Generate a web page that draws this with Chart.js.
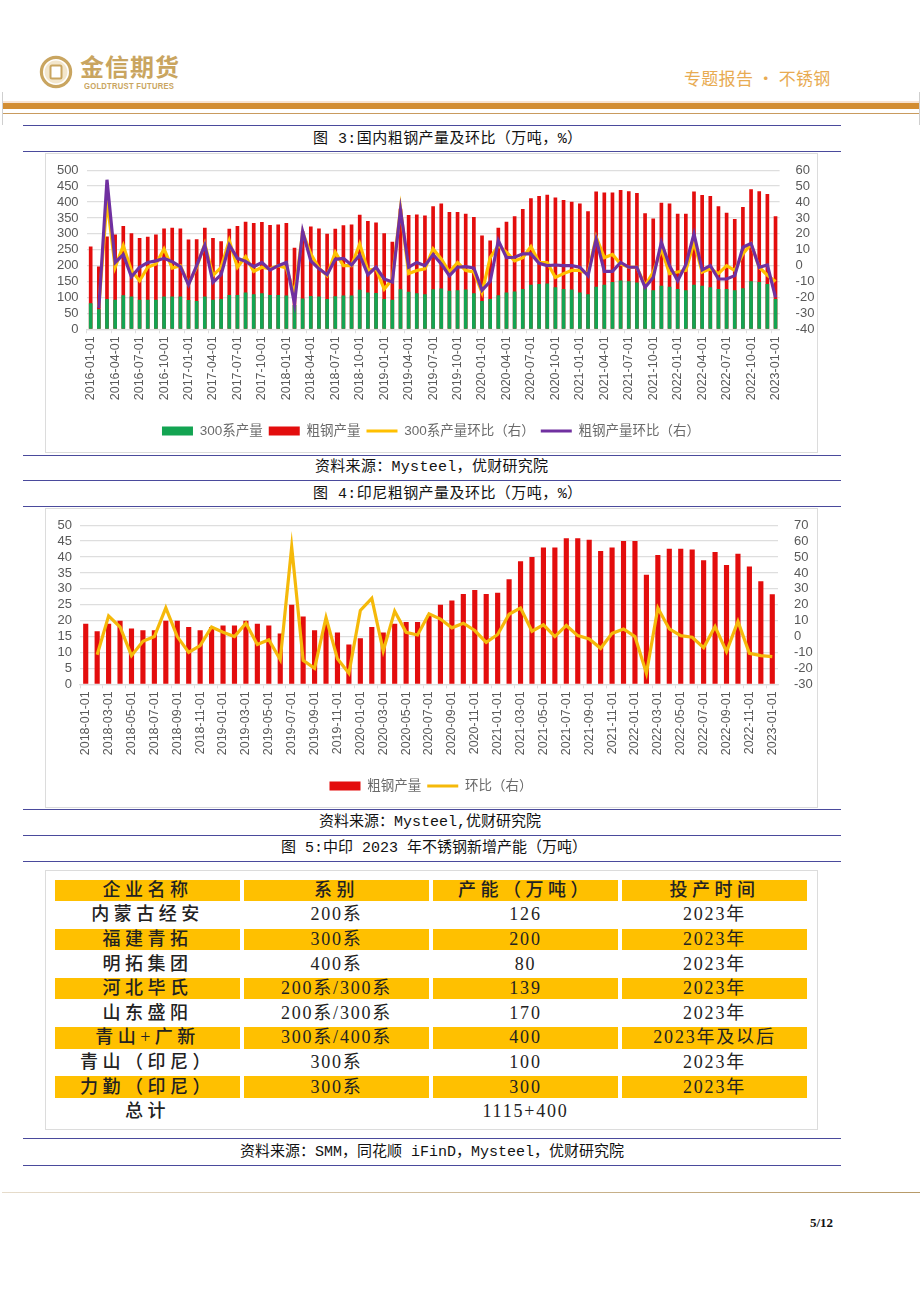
<!DOCTYPE html>
<html>
<head>
<meta charset="utf-8">
<title>不锈钢专题报告</title>
<script src="https://cdn.jsdelivr.net/npm/chart.js@4"></script>
<style>
  html, body { margin: 0; padding: 0; background: #fff; }
  #page { position: relative; width: 920px; height: 1302px; overflow: hidden; font-family: "Liberation Mono", "Noto Sans CJK SC", monospace; color: #111; }
  .abs { position: absolute; }
  .rule { position: absolute; left: 23px; width: 818px; height: 1.3px; background: #4a4a9c; }
  .cap { position: absolute; font-size: 15px; line-height: 20px; white-space: nowrap; }
  .frame { position: absolute; left: 45px; width: 771px; border: 1.5px solid #dcdcdc; box-sizing: content-box; }
  canvas { position: absolute; }
  #tbl { position: absolute; left: 51px; top: 876.5px; border-collapse: separate; border-spacing: 4px 3px; table-layout: fixed; font-family: "Liberation Serif", "Noto Sans CJK SC", serif; color: #222; }
  #tbl td { width: 185px; height: 21.6px; padding: 0; text-align: center; font-size: 18px; line-height: 21px; white-space: nowrap; letter-spacing: 1.8px; }
  #tbl td.name { letter-spacing: 4.5px; font-weight: 500; }
  #tbl tr.hl td { background: #ffc000; }
</style>
</head>
<body>
<div id="page">
  <!-- logo -->
  <svg class="abs" style="left:38px;top:54px" width="36" height="36" viewBox="0 0 36 36">
    <circle cx="18" cy="18" r="14.6" fill="none" stroke="#c9a560" stroke-width="3.2"/>
    <circle cx="18" cy="18" r="11.4" fill="#f3e6cc"/>
    <rect x="12.5" y="11.5" width="11" height="13" rx="1.5" fill="#fff" stroke="#c9a560" stroke-width="2"/>
  </svg>
  <div class="abs" style="left:80px;top:51px;font:bold 24px/30px 'Noto Sans CJK SC';letter-spacing:1px;color:#c9a560">金信期货</div>
  <div class="abs" style="left:84px;top:80px;font:bold 9px/12px 'Liberation Sans';letter-spacing:0.3px;color:#c9a560;white-space:nowrap;transform:scaleX(.85);transform-origin:left">GOLDTRUST FUTURES</div>
  <div class="abs" style="left:684px;top:66px;font:17px/24px 'Noto Sans CJK SC';letter-spacing:.3px;color:#e8ab52;white-space:nowrap">专题报告 • 不锈钢</div>

  <!-- header band -->
  <div class="abs" style="left:2px;top:101px;width:918px;height:2px;background:#f8e3d2"></div>
  <div class="abs" style="left:2px;top:103px;width:918px;height:6px;background:#d38d32"></div>
  <div class="abs" style="left:2px;top:113px;width:918px;height:1px;background:#c99b5e"></div>
  <div class="abs" style="left:2px;top:92px;width:1px;height:33px;background:#cfcfcf"></div>
  <div class="abs" style="left:919px;top:92px;width:1px;height:33px;background:#cfcfcf"></div>

  <div class="rule" style="top:124.5px"></div>
  <div class="cap" style="left:313px;top:130px;letter-spacing:.45px">图 3:国内粗钢产量及环比（万吨，%）</div>
  <div class="rule" style="top:150.5px"></div>
  <div class="frame" style="top:153px;height:298px"></div>
  <canvas id="c1" style="left:46px;top:154px"></canvas>
  <div class="rule" style="top:454.5px"></div>
  <div class="cap" style="left:315px;top:458px;letter-spacing:.3px">资料来源：Mysteel，优财研究院</div>
  <div class="rule" style="top:479.5px"></div>
  <div class="cap" style="left:313px;top:485px;letter-spacing:.45px">图 4:印尼粗钢产量及环比（万吨，%）</div>
  <div class="rule" style="top:505.5px"></div>
  <div class="frame" style="top:508px;height:298px"></div>
  <canvas id="c2" style="left:46px;top:509px"></canvas>
  <div class="rule" style="top:808.5px"></div>
  <div class="cap" style="left:319px;top:813px">资料来源：Mysteel,优财研究院</div>
  <div class="rule" style="top:834.5px"></div>
  <div class="cap" style="left:281px;top:839px">图 5:中印 2023 年不锈钢新增产能（万吨）</div>
  <div class="rule" style="top:860.5px"></div>
  <div class="frame" style="top:870px;height:258px"></div>
  <table id="tbl"></table>
  <div class="rule" style="top:1138px"></div>
  <div class="cap" style="left:240px;top:1143px">资料来源：SMM，同花顺 iFinD，Mysteel，优财研究院</div>
  <div class="rule" style="top:1164.5px"></div>

  <!-- footer -->
  <div class="abs" style="left:2px;top:1192px;width:918px;height:1.3px;background:linear-gradient(to right,#e6dccb,#b79a68)"></div>
  <div class="abs" style="left:792px;top:1215px;width:41px;text-align:right;font:bold 13px/16px 'Liberation Serif';color:#111">5/12</div>
</div>

<script>
// chart 1: domestic crude steel, 2016-01 .. 2023-01
const crudeCn = [260,197,292,298,325,302,287,291,298,317,319,317,282,283,319,287,277,316,325,338,334,337,328,329,334,256,308,323,317,300,316,327,329,360,340,336,302,275,379,359,361,358,387,395,369,369,363,353,295,279,319,338,355,378,412,419,423,414,406,401,395,371,433,430,430,438,434,428,365,348,398,395,363,363,433,422,419,387,366,347,384,440,434,425,355];
const s300 = [82,63,95,93,107,103,93,93,93,103,103,103,92,89,103,93,95,108,108,116,110,113,108,108,106,76,97,105,103,95,104,106,106,124,116,114,95,93,126,118,113,110,126,128,121,123,125,113,89,95,107,116,119,127,140,142,144,132,127,125,116,110,134,140,149,153,151,147,129,123,137,134,127,123,140,137,132,127,127,123,129,151,149,142,95];
const s300Mom = [null,-26,41,-1,12.6,-3,-9.5,-1,1,10.5,-1.5,0,-11.6,-1,13.7,-6.3,-1,15.8,-1,5.7,-3.6,-1,-2,0,-1.5,-18,21,7.4,-1.5,-6.3,8.4,0,0,13.7,-3,-2,-14.7,-8.4,35.8,-5,-3,-2,10.5,4.2,-4,2,-3,-4,-17,5,12.6,8.4,3,5,12,2,2,-7.4,-5,-3,-3,-5,18,5,7,1,-1,-1,-12.6,-4,10.5,-5,-4,-3,14.7,-4,-2,-5,0,-3,7.4,13.7,-1,-6,-10];
const crudeCnMom = [null,-26.7,54,2,7,-7,-1,2,3,4.6,2.5,-0.6,-12,0,13,-10.5,-5.7,13,4.6,2.7,-0.6,2,-2.7,0,2,-24,21.5,3,-2,-5.7,4,4.6,0.4,6.7,-5.7,-1,-8.4,-10.3,35,-1,2,0,7,1,-6.3,-1,-0.6,-1.5,-15.4,-10,15.8,5,5.3,7.4,7.4,1.5,0,0.4,0,0,-1,-6.3,16.8,-3.6,-3.6,2,-1,-1,-13.7,-7.4,14.7,0,-9.5,0.6,20,-2.7,0,-8.4,-8.4,-6.3,11.6,14,-1,0.4,-20];

// chart 2: Indonesia crude steel, 2018-01 .. 2023-01
const crudeId = [19,16.7,19,20,17.5,17,17,20,20,18,17,18,18.5,18.5,20,19,18.5,16,25,21.3,17,19,16.3,12.5,14.5,18,16.3,19,19.6,19.6,21.6,25,26.3,28.4,29.6,28.4,28.8,33,38.7,40,43,43,45.9,45.9,45.4,41.9,43,45,45,34.4,40.6,42.6,42.6,42.4,39,41.6,37.5,41,37,32.4,28.3];
const crudeIdMom = [null,-11.4,13,6,-12,-3,0,18,0,-10,-5.7,6,2.7,0,8.4,-5,-2,-14.5,56.4,-15,-20,12,-14,-23,16.4,24,-9,16,2.7,1,14.3,11,5.5,8.4,3.8,-3.6,1.3,14,18,3.4,7.4,0,7,0.6,-1.5,-7.4,2,4.8,0,-23,18,4.8,0.6,-0.4,-7,6.3,-9.5,9.5,-10.5,-12,-12.6];

// table 5
const tableHead = ['企业名称','系别','产能（万吨）','投产时间'];
const tableRows = [
  ['内蒙古经安','200系','126','2023年'],
  ['福建青拓','300系','200','2023年'],
  ['明拓集团','400系','80','2023年'],
  ['河北毕氏','200系/300系','139','2023年'],
  ['山东盛阳','200系/300系','170','2023年'],
  ['青山+广新','300系/400系','400','2023年及以后'],
  ['青山（印尼）','300系','100','2023年'],
  ['力勤（印尼）','300系','300','2023年'],
  ['总计','','1115+400','']
];

// makes yyyy-mm-01 labels from a start year/month
function monthLabels(year, month, count) {
  const out = [];
  for (let i = 0; i < count; i++) {
    const m = (month - 1 + i) % 12 + 1;
    const y = year + Math.floor((month - 1 + i) / 12);
    out.push(y + '-' + String(m).padStart(2, '0') + '-01');
  }
  return out;
}

const xFont = { family: 'Liberation Sans', size: 12.5 };
const yFont = { family: 'Liberation Sans', size: 13 };
const tickColor = '#595959';
const gridColor = '#dedede';

function drawChart(id, labels, datasets, every, left, right) {
  const el = document.getElementById(id);
  el.width = 770; el.height = 298;
  el.style.width = '770px'; el.style.height = '298px';
  return new Chart(el, {
    data: { labels: labels, datasets: datasets },
    options: {
      responsive: false,
      animation: false,
      devicePixelRatio: 1,
      layout: { padding: { top: 16.2, bottom: 4.25 } },
      plugins: {
        tooltip: { enabled: false },
        legend: {
          position: 'bottom',
          labels: {
            usePointStyle: true,
            boxHeight: 9,
            pointStyleWidth: 31,
            padding: 6,
            color: '#6b6b6b',
            font: { family: '"Liberation Sans", "Noto Sans CJK SC"', size: 13.5 },
            generateLabels: (chart) => {
              const items = Chart.defaults.plugins.legend.labels.generateLabels(chart);
              items.forEach((it) => {
                it.pointStyle = chart.data.datasets[it.datasetIndex].type === 'line' ? 'line' : 'rect';
              });
              return items.sort((a, b) => a.datasetIndex - b.datasetIndex);
            }
          }
        }
      },
      scales: {
        x: {
          offset: true,
          afterFit: (s) => { s.height = 88.95; },
          border: { color: gridColor, width: 1.3 },
          grid: {
            offset: true,
            drawOnChartArea: false,
            tickLength: 4,
            color: (c) => (c.index % every === 0 ? gridColor : 'transparent')
          },
          ticks: {
            autoSkip: false,
            minRotation: 90,
            maxRotation: 90,
            padding: 3,
            color: tickColor,
            font: xFont,
            callback: function (v, i) { return i % every === 0 ? this.getLabelForValue(v) : ''; }
          }
        },
        y: {
          position: 'left',
          min: left.min, max: left.max,
          afterFit: (s) => { s.width = left.width; },
          border: { display: false },
          grid: { color: gridColor, lineWidth: 1.3, drawTicks: false },
          ticks: { autoSkip: false, stepSize: left.step, padding: 8, color: tickColor, font: yFont }
        },
        y2: {
          position: 'right',
          min: right.min, max: right.max,
          afterFit: (s) => { s.width = right.width; },
          border: { display: false },
          grid: { display: false },
          ticks: { autoSkip: false, stepSize: right.step, padding: 8, color: tickColor, font: yFont }
        }
      }
    }
  });
}

function barSet(label, data, color, order) {
  return { type: 'bar', label: label, data: data, yAxisID: 'y', backgroundColor: color, borderWidth: 0, grouped: false, barPercentage: 0.45, categoryPercentage: 1, order: order };
}
function lineSet(label, data, color, order) {
  return { type: 'line', label: label, data: data, yAxisID: 'y2', borderColor: color, backgroundColor: color, borderWidth: 3.2, pointRadius: 0, tension: 0, order: order };
}

drawChart('c1', monthLabels(2016, 1, 85), [
  barSet('300系产量', s300, '#13a452', 2),
  barSet('粗钢产量', crudeCn, '#e30d0d', 3),
  lineSet('300系产量环比（右）', s300Mom, '#ffc000', 1),
  lineSet('粗钢产量环比（右）', crudeCnMom, '#7030a0', 0)
], 3, { min: 0, max: 500, step: 50, width: 40.6 }, { min: -40, max: 60, step: 10, width: 36.4 });

drawChart('c2', monthLabels(2018, 1, 61), [
  barSet('粗钢产量', crudeId, '#e30d0d', 1),
  lineSet('环比（右）', crudeIdMom, '#f5b90a', 0)
], 2, { min: 0, max: 50, step: 5, width: 34 }, { min: -30, max: 70, step: 10, width: 38 });

// table
const tbl = document.getElementById('tbl');
[tableHead].concat(tableRows).forEach((row, r) => {
  const tr = document.createElement('tr');
  if (r % 2 === 0 && r < 9) tr.className = 'hl';
  row.forEach((txt, c) => {
    const td = document.createElement('td');
    if (c === 0 || r === 0) td.className = 'name';
    td.textContent = txt;
    tr.appendChild(td);
  });
  tbl.appendChild(tr);
});
</script>
</body>
</html>
